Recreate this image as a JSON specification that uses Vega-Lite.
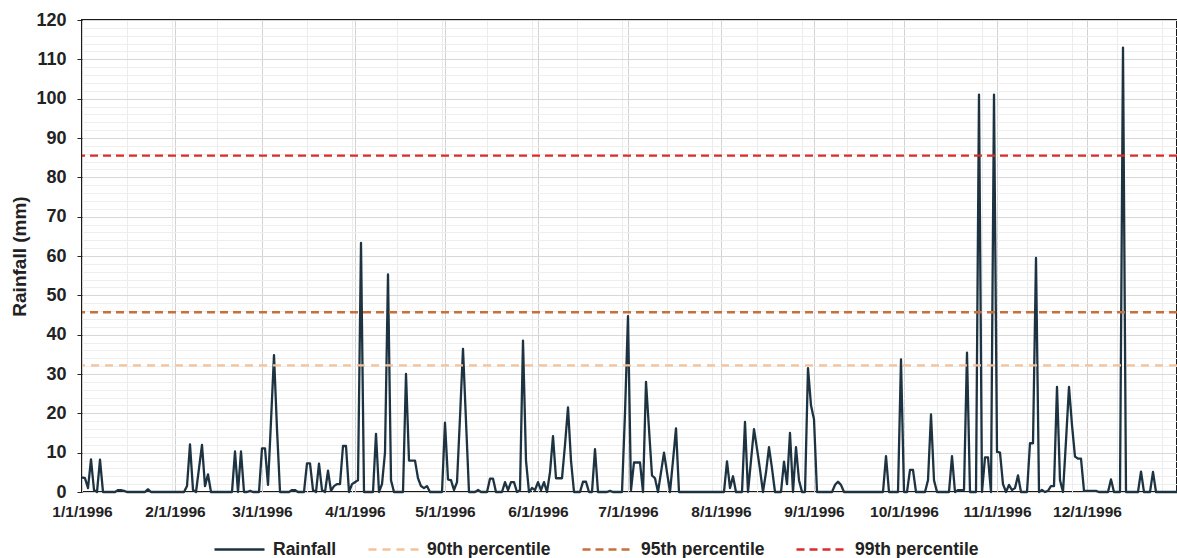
{
"$schema":"https://vega.github.io/schema/vega-lite/v6.json",
"width":1095,"height":472,
"autosize":{"type":"none"},
"padding":{"left":82,"top":20,"right":0,"bottom":66},
"background":"white",
"config":{"view":{"stroke":"#1a1a1a","strokeWidth":2},"font":"Liberation Sans"},
"data":{"values":[
{"date":"1996/01/01","mm":3.7},{"date":"1996/01/02","mm":3.5},{"date":"1996/01/03","mm":1},{"date":"1996/01/04","mm":8.3},{"date":"1996/01/05","mm":0.5},{"date":"1996/01/06","mm":0},{"date":"1996/01/07","mm":8.2},{"date":"1996/01/08","mm":0},
{"date":"1996/01/12","mm":0},{"date":"1996/01/13","mm":0.5},{"date":"1996/01/14","mm":0.5},{"date":"1996/01/15","mm":0.3},{"date":"1996/01/16","mm":0},
{"date":"1996/01/22","mm":0},{"date":"1996/01/23","mm":0.7},{"date":"1996/01/24","mm":0},
{"date":"1996/02/04","mm":0},{"date":"1996/02/05","mm":1.5},{"date":"1996/02/06","mm":12.1},{"date":"1996/02/07","mm":0.5},{"date":"1996/02/08","mm":0},{"date":"1996/02/09","mm":6},{"date":"1996/02/10","mm":12},{"date":"1996/02/11","mm":1.5},{"date":"1996/02/12","mm":4.5},{"date":"1996/02/13","mm":0},
{"date":"1996/02/20","mm":0},{"date":"1996/02/21","mm":10.3},{"date":"1996/02/22","mm":0},{"date":"1996/02/23","mm":10.3},{"date":"1996/02/24","mm":0},{"date":"1996/02/25","mm":0},{"date":"1996/02/26","mm":0.3},{"date":"1996/02/27","mm":0},{"date":"1996/02/29","mm":0},
{"date":"1996/03/01","mm":11.1},{"date":"1996/03/02","mm":11.1},{"date":"1996/03/03","mm":1.8},{"date":"1996/03/04","mm":18},{"date":"1996/03/05","mm":34.8},{"date":"1996/03/06","mm":16},{"date":"1996/03/07","mm":0},
{"date":"1996/03/10","mm":0},{"date":"1996/03/11","mm":0.5},{"date":"1996/03/12","mm":0.5},{"date":"1996/03/13","mm":0},
{"date":"1996/03/15","mm":0},{"date":"1996/03/16","mm":7.3},{"date":"1996/03/17","mm":7.3},{"date":"1996/03/18","mm":0.5},{"date":"1996/03/19","mm":0},{"date":"1996/03/20","mm":7.2},{"date":"1996/03/21","mm":0.5},{"date":"1996/03/22","mm":0},{"date":"1996/03/23","mm":5.4},{"date":"1996/03/24","mm":0.3},{"date":"1996/03/25","mm":1.5},{"date":"1996/03/26","mm":2},{"date":"1996/03/27","mm":2},{"date":"1996/03/28","mm":11.7},{"date":"1996/03/29","mm":11.7},{"date":"1996/03/30","mm":0},{"date":"1996/03/31","mm":2},
{"date":"1996/04/01","mm":2.5},{"date":"1996/04/02","mm":3},{"date":"1996/04/03","mm":63.3},{"date":"1996/04/04","mm":0},
{"date":"1996/04/07","mm":0},{"date":"1996/04/08","mm":14.8},{"date":"1996/04/09","mm":0},{"date":"1996/04/10","mm":2},{"date":"1996/04/11","mm":10},{"date":"1996/04/12","mm":55.3},{"date":"1996/04/13","mm":3},{"date":"1996/04/14","mm":0},
{"date":"1996/04/17","mm":0},{"date":"1996/04/18","mm":30},{"date":"1996/04/19","mm":8},{"date":"1996/04/20","mm":8},{"date":"1996/04/21","mm":8},{"date":"1996/04/22","mm":3.5},{"date":"1996/04/23","mm":1.5},{"date":"1996/04/24","mm":1},{"date":"1996/04/25","mm":1.5},{"date":"1996/04/26","mm":0},
{"date":"1996/04/30","mm":0},{"date":"1996/05/01","mm":17.6},{"date":"1996/05/02","mm":3.2},{"date":"1996/05/03","mm":3},{"date":"1996/05/04","mm":0.5},{"date":"1996/05/05","mm":2.5},{"date":"1996/05/06","mm":19},{"date":"1996/05/07","mm":36.4},{"date":"1996/05/08","mm":18},{"date":"1996/05/09","mm":0},
{"date":"1996/05/11","mm":0},{"date":"1996/05/12","mm":0.5},{"date":"1996/05/13","mm":0},
{"date":"1996/05/15","mm":0},{"date":"1996/05/16","mm":3.4},{"date":"1996/05/17","mm":3.4},{"date":"1996/05/18","mm":0},
{"date":"1996/05/20","mm":0},{"date":"1996/05/21","mm":2.5},{"date":"1996/05/22","mm":0.5},{"date":"1996/05/23","mm":2.5},{"date":"1996/05/24","mm":2.5},{"date":"1996/05/25","mm":0},{"date":"1996/05/26","mm":0.5},{"date":"1996/05/27","mm":38.5},{"date":"1996/05/28","mm":8},{"date":"1996/05/29","mm":0},{"date":"1996/05/30","mm":1},{"date":"1996/05/31","mm":0.5},
{"date":"1996/06/01","mm":2.5},{"date":"1996/06/02","mm":0.5},{"date":"1996/06/03","mm":2.5},{"date":"1996/06/04","mm":0},{"date":"1996/06/05","mm":5},{"date":"1996/06/06","mm":14.2},{"date":"1996/06/07","mm":3.5},{"date":"1996/06/08","mm":3.5},{"date":"1996/06/09","mm":3.5},{"date":"1996/06/10","mm":12},{"date":"1996/06/11","mm":21.5},{"date":"1996/06/12","mm":8},{"date":"1996/06/13","mm":0},
{"date":"1996/06/15","mm":0},{"date":"1996/06/16","mm":2.6},{"date":"1996/06/17","mm":2.6},{"date":"1996/06/18","mm":0},{"date":"1996/06/19","mm":0},{"date":"1996/06/20","mm":10.9},{"date":"1996/06/21","mm":0},
{"date":"1996/06/24","mm":0},{"date":"1996/06/25","mm":0.3},{"date":"1996/06/26","mm":0},
{"date":"1996/06/29","mm":0},{"date":"1996/06/30","mm":20},{"date":"1996/07/01","mm":44.7},{"date":"1996/07/02","mm":0.5},{"date":"1996/07/03","mm":7.5},{"date":"1996/07/04","mm":7.5},{"date":"1996/07/05","mm":7.5},{"date":"1996/07/06","mm":0},{"date":"1996/07/07","mm":28},{"date":"1996/07/08","mm":16},{"date":"1996/07/09","mm":4.2},{"date":"1996/07/10","mm":3.5},{"date":"1996/07/11","mm":0},{"date":"1996/07/12","mm":5},{"date":"1996/07/13","mm":10},{"date":"1996/07/14","mm":5},{"date":"1996/07/15","mm":0},{"date":"1996/07/16","mm":8},{"date":"1996/07/17","mm":16.2},{"date":"1996/07/18","mm":0},
{"date":"1996/08/02","mm":0},{"date":"1996/08/03","mm":7.8},{"date":"1996/08/04","mm":1},{"date":"1996/08/05","mm":4},{"date":"1996/08/06","mm":0},
{"date":"1996/08/08","mm":0},{"date":"1996/08/09","mm":17.8},{"date":"1996/08/10","mm":0},{"date":"1996/08/11","mm":8},{"date":"1996/08/12","mm":16},{"date":"1996/08/13","mm":11},{"date":"1996/08/14","mm":5.7},{"date":"1996/08/15","mm":0},{"date":"1996/08/16","mm":5},{"date":"1996/08/17","mm":11.4},{"date":"1996/08/18","mm":6},{"date":"1996/08/19","mm":0},
{"date":"1996/08/21","mm":0},{"date":"1996/08/22","mm":7.7},{"date":"1996/08/23","mm":2},{"date":"1996/08/24","mm":15},{"date":"1996/08/25","mm":0},{"date":"1996/08/26","mm":11.4},{"date":"1996/08/27","mm":3},{"date":"1996/08/28","mm":0},{"date":"1996/08/29","mm":0},{"date":"1996/08/30","mm":31.5},{"date":"1996/08/31","mm":22},
{"date":"1996/09/01","mm":18.5},{"date":"1996/09/02","mm":0},
{"date":"1996/09/07","mm":0},{"date":"1996/09/08","mm":1.8},{"date":"1996/09/09","mm":2.6},{"date":"1996/09/10","mm":1.8},{"date":"1996/09/11","mm":0},
{"date":"1996/09/24","mm":0},{"date":"1996/09/25","mm":9.1},{"date":"1996/09/26","mm":0},
{"date":"1996/09/29","mm":0},{"date":"1996/09/30","mm":33.7},{"date":"1996/10/01","mm":0},{"date":"1996/10/02","mm":0},{"date":"1996/10/03","mm":5.6},{"date":"1996/10/04","mm":5.6},{"date":"1996/10/05","mm":0},
{"date":"1996/10/08","mm":0},{"date":"1996/10/09","mm":3},{"date":"1996/10/10","mm":19.7},{"date":"1996/10/11","mm":3},{"date":"1996/10/12","mm":0},
{"date":"1996/10/16","mm":0},{"date":"1996/10/17","mm":9.1},{"date":"1996/10/18","mm":0},{"date":"1996/10/19","mm":0.5},{"date":"1996/10/20","mm":0.5},{"date":"1996/10/21","mm":0.5},{"date":"1996/10/22","mm":35.4},{"date":"1996/10/23","mm":0},
{"date":"1996/10/25","mm":0},{"date":"1996/10/26","mm":101},{"date":"1996/10/27","mm":0},{"date":"1996/10/28","mm":8.8},{"date":"1996/10/29","mm":8.8},{"date":"1996/10/30","mm":0},{"date":"1996/10/31","mm":101},
{"date":"1996/11/01","mm":10.2},{"date":"1996/11/02","mm":10},{"date":"1996/11/03","mm":2},{"date":"1996/11/04","mm":0},{"date":"1996/11/05","mm":1.8},{"date":"1996/11/06","mm":0.5},{"date":"1996/11/07","mm":1},{"date":"1996/11/08","mm":4.2},{"date":"1996/11/09","mm":0},
{"date":"1996/11/11","mm":0},{"date":"1996/11/12","mm":12.4},{"date":"1996/11/13","mm":12.4},{"date":"1996/11/14","mm":59.5},{"date":"1996/11/15","mm":0},{"date":"1996/11/16","mm":0.5},{"date":"1996/11/17","mm":0},{"date":"1996/11/18","mm":0.3},{"date":"1996/11/19","mm":1.5},{"date":"1996/11/20","mm":1.5},{"date":"1996/11/21","mm":26.7},{"date":"1996/11/22","mm":3},{"date":"1996/11/23","mm":0},{"date":"1996/11/24","mm":13},{"date":"1996/11/25","mm":26.7},{"date":"1996/11/26","mm":17},{"date":"1996/11/27","mm":9},{"date":"1996/11/28","mm":8.5},{"date":"1996/11/29","mm":8.5},{"date":"1996/11/30","mm":0.3},
{"date":"1996/12/01","mm":0.3},{"date":"1996/12/02","mm":0.3},{"date":"1996/12/03","mm":0.3},{"date":"1996/12/04","mm":0.3},{"date":"1996/12/05","mm":0},
{"date":"1996/12/08","mm":0},{"date":"1996/12/09","mm":3.2},{"date":"1996/12/10","mm":0},
{"date":"1996/12/12","mm":0},{"date":"1996/12/13","mm":113},{"date":"1996/12/14","mm":0},
{"date":"1996/12/18","mm":0},{"date":"1996/12/19","mm":5.2},{"date":"1996/12/20","mm":0},
{"date":"1996/12/22","mm":0},{"date":"1996/12/23","mm":5.1},{"date":"1996/12/24","mm":0},
{"date":"1996/12/31","mm":0}
]},
"layer":[
{"mark":{"type":"line","opacity":0},
 "encoding":{
  "x":{"field":"date","type":"temporal","scale":{"domain":[{"year":1996,"month":1,"date":1},{"year":1996,"month":12,"date":31}],"nice":false},
   "axis":{"orient":"top","title":null,"labels":false,"ticks":false,"domain":false,"grid":true,"gridColor":"#ececec","gridWidth":1,
    "values":[{"year":1996,"month":1,"date":16},{"year":1996,"month":1,"date":31},{"year":1996,"month":2,"date":15},{"year":1996,"month":3,"date":1},{"year":1996,"month":3,"date":16},{"year":1996,"month":3,"date":31},{"year":1996,"month":4,"date":15},{"year":1996,"month":4,"date":30},{"year":1996,"month":5,"date":15},{"year":1996,"month":5,"date":30},{"year":1996,"month":6,"date":14},{"year":1996,"month":6,"date":29},{"year":1996,"month":7,"date":14},{"year":1996,"month":7,"date":29},{"year":1996,"month":8,"date":13},{"year":1996,"month":8,"date":28},{"year":1996,"month":9,"date":12},{"year":1996,"month":9,"date":27},{"year":1996,"month":10,"date":12},{"year":1996,"month":10,"date":27},{"year":1996,"month":11,"date":11},{"year":1996,"month":11,"date":26},{"year":1996,"month":12,"date":11},{"year":1996,"month":12,"date":26}]}},
  "y":{"field":"mm","type":"quantitative","scale":{"domain":[0,120],"nice":false},
   "axis":{"orient":"right","title":null,"labels":false,"ticks":false,"domain":false,"grid":true,"gridColor":"#eeeeee","gridWidth":1,
    "values":[2,4,6,8,12,14,16,18,22,24,26,28,32,34,36,38,42,44,46,48,52,54,56,58,62,64,66,68,72,74,76,78,82,84,86,88,92,94,96,98,102,104,106,108,112,114,116,118]}}
 }},
{"mark":{"type":"line","strokeWidth":2.3,"strokeJoin":"round"},
 "encoding":{
  "x":{"field":"date","type":"temporal",
   "axis":{"orient":"bottom","title":null,"format":"%-m/%-d/%Y","labelFontSize":15.5,"labelFontWeight":"bold","labelColor":"#222222","labelPadding":12,"ticks":false,"domain":false,"grid":true,"gridColor":"#d2d2d2","gridWidth":1,"labelFlush":false,"labelOverlap":false,
    "values":[{"year":1996,"month":1,"date":1},{"year":1996,"month":2,"date":1},{"year":1996,"month":3,"date":1},{"year":1996,"month":4,"date":1},{"year":1996,"month":5,"date":1},{"year":1996,"month":6,"date":1},{"year":1996,"month":7,"date":1},{"year":1996,"month":8,"date":1},{"year":1996,"month":9,"date":1},{"year":1996,"month":10,"date":1},{"year":1996,"month":11,"date":1},{"year":1996,"month":12,"date":1}]}},
  "y":{"field":"mm","type":"quantitative",
   "axis":{"orient":"left","title":"Rainfall (mm)","titleFontSize":19,"titleFontWeight":"bold","titleColor":"#222222","titlePadding":6,
    "labelFontSize":18,"labelFontWeight":"bold","labelColor":"#222222","labelPadding":11,"tickSize":5,"tickColor":"#222222","domain":false,
    "grid":true,"gridColor":"#d8d8d8","gridWidth":1,"values":[0,10,20,30,40,50,60,70,80,90,100,110,120]}},
  "color":{"datum":"Rainfall","type":"nominal",
   "scale":{"domain":["Rainfall","90th percentile","95th percentile","99th percentile"],"range":["#1d3341","#f3c29b","#c7703c","#dc2b2b"]},
   "legend":{"title":null,"orient":"none","legendX":131,"legendY":503,"direction":"horizontal","columns":4,"symbolType":"stroke","symbolSize":2500,"symbolStrokeWidth":2.5,"labelFontSize":17.5,"labelFontWeight":"bold","labelColor":"#222222","labelOffset":7,"columnPadding":26}},
  "strokeDash":{"datum":"Rainfall","type":"nominal",
   "scale":{"domain":["Rainfall","90th percentile","95th percentile","99th percentile"],"range":[[1,0],[8,6],[8,5],[8,5]]},
   "legend":{"title":null,"orient":"none","legendX":131,"legendY":503,"direction":"horizontal","columns":4,"symbolType":"stroke","symbolSize":2500,"symbolStrokeWidth":2.5,"labelFontSize":17.5,"labelFontWeight":"bold","labelColor":"#222222","labelOffset":7,"columnPadding":26}}
 }},
{"data":{"values":[
  {"series":"90th percentile","value":32.2},
  {"series":"95th percentile","value":45.7},
  {"series":"99th percentile","value":85.5}]},
 "mark":{"type":"rule","strokeWidth":2.3},
 "encoding":{
  "y":{"field":"value","type":"quantitative","axis":null},
  "color":{"field":"series","type":"nominal","legend":null},
  "strokeDash":{"field":"series","type":"nominal","legend":null}
 }}
],
"resolve":{"axis":{"x":"independent","y":"independent"}}
}
